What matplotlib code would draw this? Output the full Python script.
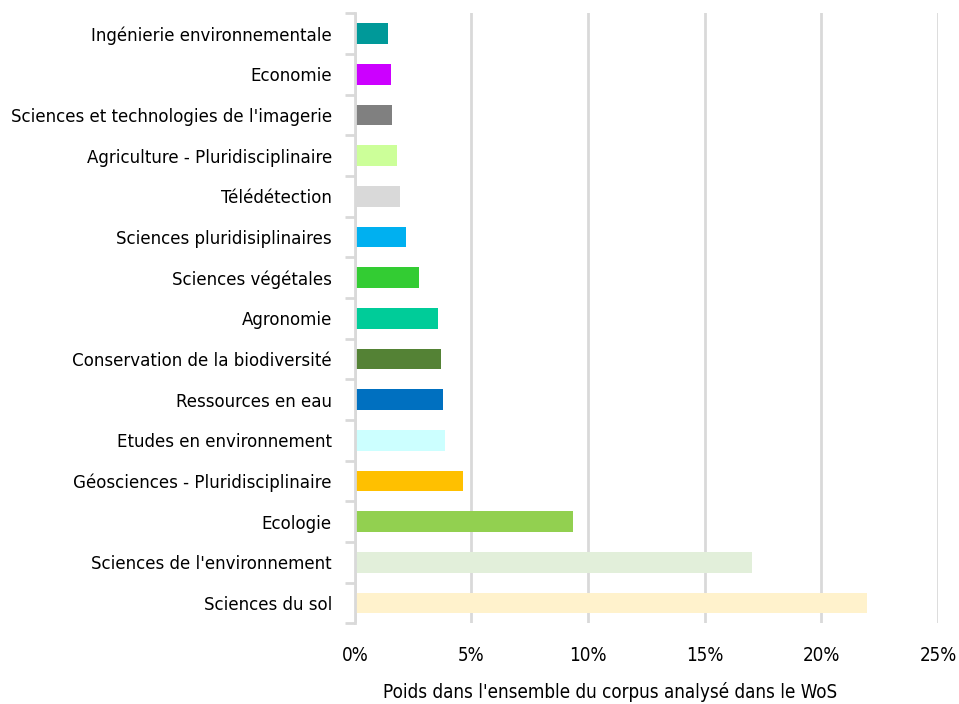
import matplotlib
matplotlib.use("Agg")
import matplotlib.pyplot as plt
from matplotlib.ticker import FuncFormatter, FixedLocator
import numpy as np

categories = [
    "Sciences du sol",
    "Sciences de l'environnement",
    "Ecologie",
    "Géosciences - Pluridisciplinaire",
    "Etudes en environnement",
    "Ressources en eau",
    "Conservation de la biodiversité",
    "Agronomie",
    "Sciences végétales",
    "Sciences pluridisiplinaires",
    "Télédétection",
    "Agriculture - Pluridisciplinaire",
    "Sciences et technologies de l'imagerie",
    "Economie",
    "Ingénierie environnementale",
]
values = [21.97, 17.04, 9.36, 4.64, 3.86, 3.78, 3.69, 3.56, 2.75, 2.19, 1.93, 1.80, 1.59, 1.55, 1.42]
colors = ["#FFF2CC", "#E2EFDA", "#92D050", "#FFC000", "#CCFFFF", "#0070C0", "#548235",
          "#00CC99", "#33CC33", "#00B0F0", "#D9D9D9", "#CCFF99", "#808080", "#CC00FF", "#009999"]
xticks = [0, 5, 10, 15, 20, 25]
xlabel = "Poids dans l'ensemble du corpus analysé dans le WoS"

plt.rcParams['font.family'] = ['DejaVu Sans']
plt.rcParams['font.stretch'] = 'condensed'

fig = plt.figure(figsize=(9.59, 7.04), dpi=100)
ax = fig.add_axes([0.370, 0.1146, 0.608, 0.8665])
y = np.arange(len(categories))
ax.barh(y, values, height=0.51, color=colors, zorder=3)
ax.set_xlim(0, 25)
ax.set_ylim(-0.5, len(categories) - 0.5)
ax.set_xticks(xticks)
ax.xaxis.set_major_formatter(FuncFormatter(lambda v, p: f"{int(v)}%"))
ax.set_yticks(y)
ax.set_yticklabels(categories)
ax.yaxis.set_minor_locator(FixedLocator(np.arange(-0.5, len(categories), 1)))
ax.tick_params(axis='y', which='major', length=0, pad=16.5, labelsize=13.3, labelcolor='#000000')
ax.tick_params(axis='y', which='minor', length=7, width=2, color='#D9D9D9')
ax.tick_params(axis='x', length=0, labelsize=13.5, pad=16)
ax.grid(axis='x', color='#D9D9D9', linewidth=2, zorder=0)
for s in ['top', 'right', 'bottom']:
    ax.spines[s].set_visible(False)
ax.spines['left'].set_color('#D9D9D9')
ax.spines['left'].set_linewidth(2)
ax.spines['left'].set_zorder(4)
fig.text(610 / 959, 1 - 692 / 704, xlabel, fontsize=13.5, ha='center', va='center')
fig.savefig("out.png", dpi=100)
